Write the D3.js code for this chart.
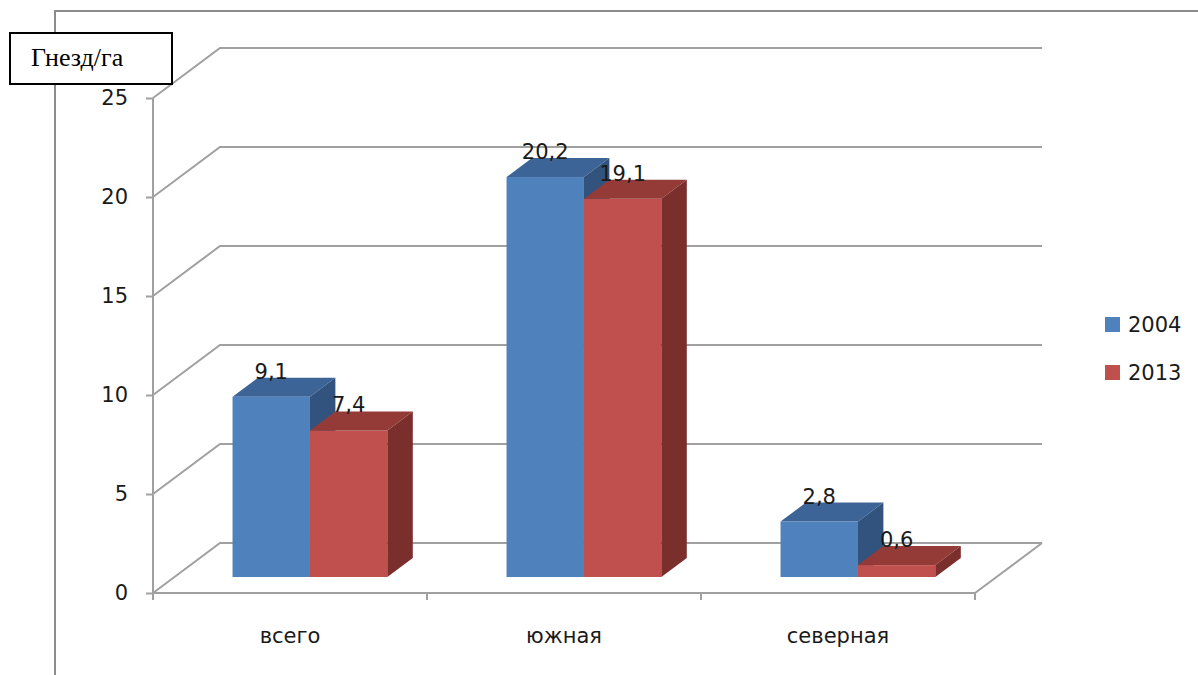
<!DOCTYPE html>
<html>
<head>
<meta charset="utf-8">
<script src="https://cdn.jsdelivr.net/npm/d3@7"></script>
<style>
  body { margin: 0; background: #fff; }
  svg { display: block; }
</style>
</head>
<body>
<div id="chart"></div>
<script>
// chart data
const categories = ["всего", "южная", "северная"];
const series = ["2004", "2013"];
const values2004 = [9.1, 20.2, 2.8];
const values2013 = [7.4, 19.1, 0.6];
const yTicks = [0, 5, 10, 15, 20, 25];
const unitLabel = "Гнезд/га";

const width = 1198;
const height = 675;

// 3d look: offset of the back wall and of the bar faces
const wall = { dx: 67, dy: -50 };
const barFront = 0.32;   // share of the floor depth
const barDepth = 0.38;

const front = { left: 153, right: 975, top: 98, bottom: 593 };

const colors = {
  "2004": { front: "#4F81BD", top: "#3D6496", side: "#31537E" },
  "2013": { front: "#C0504D", top: "#943B38", side: "#7A2F2D" }
};

const textFont = "DejaVu Sans";
const textSize = 21;

const svg = d3.select("#chart")
  .append("svg")
  .attr("width", width)
  .attr("height", height);

const y = d3.scaleLinear()
  .domain([0, 25])
  .range([front.bottom, front.top]);

const x = d3.scaleBand()
  .domain(categories)
  .range([front.left, front.right]);

const xSeries = d3.scaleBand()
  .domain(series)
  .range([0, x.bandwidth()])
  .paddingOuter(0.77);

const gridColor = "#A0A0A0";

// outer frame
svg.append("path")
  .attr("d", `M55,${height} L55,11 L${width},11`)
  .attr("fill", "none")
  .attr("stroke", "#8C8C8C")
  .attr("stroke-width", 2);

// back wall + side wall grid lines
const grid = svg.append("g")
  .attr("stroke", gridColor)
  .attr("stroke-width", 2)
  .attr("fill", "none");

yTicks.forEach(t => {
  const yy = y(t);
  grid.append("path")
    .attr("d", `M${front.left},${yy} L${front.left + wall.dx},${yy + wall.dy} L${front.right + wall.dx},${yy + wall.dy}`);
});

// floor right edge
grid.append("line")
  .attr("x1", front.right).attr("y1", y(0))
  .attr("x2", front.right + wall.dx).attr("y2", y(0) + wall.dy);

// y axis
const yAxis = d3.axisLeft(y)
  .tickValues(yTicks)
  .tickSize(7)
  .tickPadding(18);

const yG = svg.append("g")
  .attr("transform", `translate(${front.left},0)`)
  .call(yAxis);
yG.selectAll("path, line").attr("stroke", gridColor).attr("stroke-width", 2);
yG.select(".domain").attr("d", `M0,${front.top}V${front.bottom}`);
yG.selectAll("text")
  .attr("font-family", textFont)
  .attr("font-size", textSize)
  .attr("fill", "#1a1a1a");

// x axis
const xAxisLine = svg.append("g").attr("stroke", gridColor).attr("stroke-width", 2);
xAxisLine.append("line")
  .attr("x1", front.left).attr("x2", front.right)
  .attr("y1", front.bottom).attr("y2", front.bottom);
const boundaries = categories.map(c => x(c)).concat([front.right]);
xAxisLine.selectAll(".tick")
  .data(boundaries)
  .enter()
  .append("line")
  .attr("x1", d => d).attr("x2", d => d)
  .attr("y1", front.bottom).attr("y2", front.bottom + 7);

svg.append("g")
  .selectAll("text")
  .data(categories)
  .enter()
  .append("text")
  .attr("x", d => x(d) + x.bandwidth() / 2)
  .attr("y", 643)
  .attr("text-anchor", "middle")
  .attr("font-family", textFont)
  .attr("font-size", textSize)
  .attr("fill", "#1a1a1a")
  .text(d => d);

// bars
const off1 = { dx: wall.dx * barFront - 1.5, dy: wall.dy * barFront };
const off2 = { dx: wall.dx * barDepth, dy: wall.dy * barDepth };

const bars = [];
categories.forEach((c, i) => {
  bars.push({ cat: c, s: "2004", v: values2004[i] });
  bars.push({ cat: c, s: "2013", v: values2013[i] });
});

const barG = svg.append("g");
bars.forEach(b => {
  const x0 = x(b.cat) + xSeries(b.s) + off1.dx;
  const x1 = x0 + xSeries.bandwidth();
  const yb = y(0) + off1.dy;
  const yt = y(b.v) + off1.dy;
  const c = colors[b.s];
  // front face
  barG.append("rect")
    .attr("x", x0).attr("y", yt)
    .attr("width", x1 - x0).attr("height", yb - yt)
    .attr("fill", c.front);
  // top face
  barG.append("path")
    .attr("d", `M${x0},${yt} L${x0 + off2.dx},${yt + off2.dy} L${x1 + off2.dx},${yt + off2.dy} L${x1},${yt}Z`)
    .attr("fill", c.top);
  // side face
  barG.append("path")
    .attr("d", `M${x1},${yt} L${x1 + off2.dx},${yt + off2.dy} L${x1 + off2.dx},${yb + off2.dy} L${x1},${yb}Z`)
    .attr("fill", c.side);
});

// data labels
svg.append("g")
  .selectAll("text")
  .data(bars)
  .enter()
  .append("text")
  .attr("x", d => x(d.cat) + xSeries(d.s) + off1.dx + xSeries.bandwidth() / 2)
  .attr("y", d => y(d.v) + off1.dy - 18)
  .attr("text-anchor", "middle")
  .attr("font-family", textFont)
  .attr("font-size", textSize)
  .attr("fill", "#1a1a1a")
  .text(d => String(d.v).replace(".", ","));

// legend
const legend = svg.append("g")
  .selectAll("g")
  .data(series)
  .enter()
  .append("g")
  .attr("transform", (d, i) => `translate(1105,${317 + i * 48})`);
legend.append("rect")
  .attr("width", 15).attr("height", 15)
  .attr("fill", d => colors[d].front);
legend.append("text")
  .attr("x", 23).attr("y", 8)
  .attr("dy", "0.35em")
  .attr("font-family", textFont)
  .attr("font-size", textSize)
  .attr("fill", "#1a1a1a")
  .text(d => d);

// unit label box
svg.append("rect")
  .attr("x", 10).attr("y", 33)
  .attr("width", 162).attr("height", 51)
  .attr("fill", "#fff")
  .attr("stroke", "#000")
  .attr("stroke-width", 2);
svg.append("text")
  .attr("x", 31).attr("y", 66)
  .attr("font-family", "Liberation Serif")
  .attr("font-size", 26)
  .attr("fill", "#000")
  .text(unitLabel);
</script>
</body>
</html>
